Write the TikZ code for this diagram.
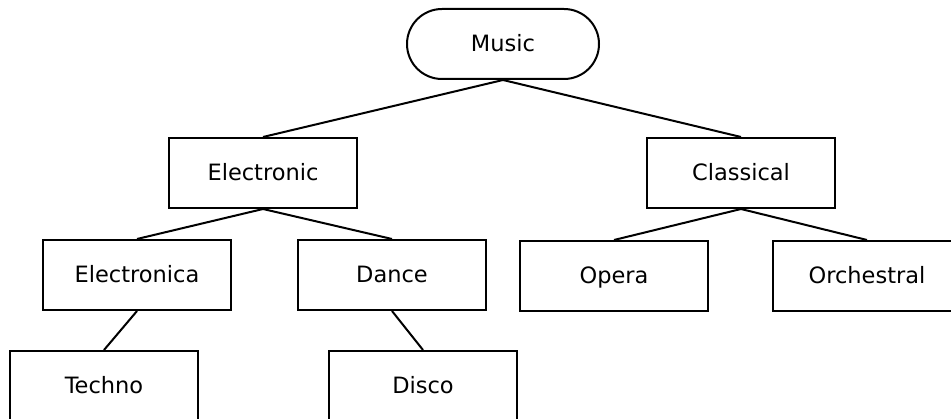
\documentclass[tikz,border=0pt]{standalone}
\usepackage{fontspec}
\setmainfont{DejaVu Sans}
\begin{document}
\begin{tikzpicture}[x=1pt, y=-1pt, line width=2pt,
	genre/.style={draw, minimum width=188pt, minimum height=70pt, inner sep=0pt, text height=16pt, text depth=0pt, font=\fontsize{22.5}{26}\selectfont},
	root/.style={genre, rounded corners=35pt, minimum width=192pt}]
	\clip (0,0) rectangle (951,419);
	% Root
	\node [root] (music) at (503,44) {Music};
	% Level 1
	\node [genre] (electronic) at (263,173) {Electronic};
	\node [genre] (classical) at (741,173) {Classical};
	% Level 2
	\node [genre] (electronica) at (137,275) {Electronica};
	\node [genre] (dance) at (392,275) {Dance};
	\node [genre] (opera) at (614,276) {Opera};
	\node [genre] (orchestral) at (867,276) {Orchestral};
	% Level 3
	\node [genre] (techno) at (104,386) {Techno};
	\node [genre] (disco) at (423,386) {Disco};
	% Edges
	\draw (music.south) -- (electronic.north);
	\draw (music.south) -- (classical.north);
	\draw (electronic.south) -- (electronica.north);
	\draw (electronic.south) -- (dance.north);
	\draw (classical.south) -- (opera.north);
	\draw (classical.south) -- (orchestral.north);
	\draw (electronica.south) -- (techno.north);
	\draw (dance.south) -- (disco.north);
\end{tikzpicture}
\end{document}
